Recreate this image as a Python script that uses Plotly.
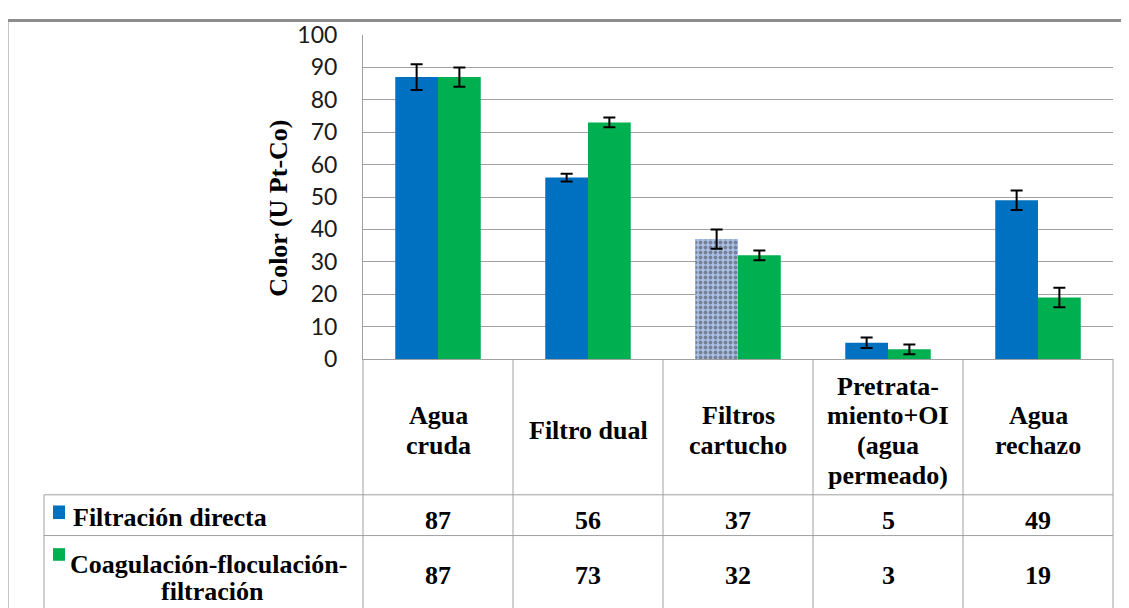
import plotly.graph_objects as go

categories = ["Agua cruda", "Filtro dual", "Filtros cartucho",
              "Pretratamiento+OI (agua permeado)", "Agua rechazo"]
header_labels = ["Agua<br>cruda", "Filtro dual", "Filtros<br>cartucho",
                 "Pretrata-<br>miento+OI<br>(agua<br>permeado)", "Agua<br>rechazo"]
series_names = ["Filtración directa", "Coagulación-floculación-<br>filtración"]
directa = [87, 56, 37, 5, 49]
directa_err = [4, 1.2, 3, 1.6, 3]
coag = [87, 73, 32, 3, 19]
coag_err = [3, 1.5, 1.5, 1.5, 3]
y_ticks = list(range(0, 101, 10))

BLUE = "#0070C0"
GREEN = "#00B050"
GRID = "#A0A0A0"
OFF = 8  # page body margin
W, H = 1129 - OFF, 608 - OFF
# plot area in reference pixel coords
L, R, T, B = 363, 1113, 25, 359


def PX(px):
    return (px - L) / (R - L)


def PY(py):
    return (B - py) / (B - T)


fig = go.Figure()
fig.add_trace(go.Bar(
    x=categories, y=directa, name="Filtración directa",
    marker=dict(
        color=[BLUE, BLUE, "#A9BFE6", BLUE, BLUE],
        line=dict(width=0),
        pattern=dict(shape=["", "", ".", "", ""],
                     fgcolor=[BLUE, BLUE, "#2F5290", BLUE, BLUE],
                     bgcolor=[BLUE, BLUE, "#AFC3E8", BLUE, BLUE],
                     size=5, solidity=0.45, fillmode="overlay"),
    ),
    error_y=dict(type="data", array=directa_err, color="black", thickness=2, width=6),
))
fig.add_trace(go.Bar(
    x=categories, y=coag, name="Coagulación-floculación-filtración",
    marker=dict(color=GREEN, line=dict(width=0)),
    error_y=dict(type="data", array=coag_err, color="black", thickness=2, width=6),
))

serif = "Liberation Serif"
tfont = dict(family=serif, size=26, color="black")

annotations = []
annotations.append(dict(
    text="<b>Color (U Pt-Co)</b>", x=PX(279), y=PY(204), xref="paper", yref="paper",
    textangle=-90, showarrow=False, font=dict(family=serif, size=26, color="black"),
    xanchor="center", yanchor="middle"))

# header cells: one annotation per line for exact line spacing
HDR_MID, HDR_STEP, SHIFT = 430, 30.5, 3
for cat, lab in zip(categories, header_labels):
    parts = lab.split("<br>")
    n = len(parts)
    for i, p in enumerate(parts):
        yc = HDR_MID + (i - (n - 1) / 2) * HDR_STEP + SHIFT
        annotations.append(dict(text="<b>" + p + "</b>", x=cat, xref="x", y=PY(yc), yref="paper",
                                showarrow=False, font=tfont, xanchor="center", yanchor="middle"))
for cat, v1, v2 in zip(categories, directa, coag):
    annotations.append(dict(text="<b>%d</b>" % v1, x=cat, xref="x", y=PY(525), yref="paper",
                            showarrow=False, font=tfont, xanchor="center", yanchor="middle"))
    annotations.append(dict(text="<b>%d</b>" % v2, x=cat, xref="x", y=PY(582), yref="paper",
                            showarrow=False, font=tfont, xanchor="center", yanchor="middle"))

# legend labels in the table
annotations.append(dict(
    text="<b>%s</b>" % series_names[0],
    x=PX(71), y=PY(522), xref="paper", yref="paper", showarrow=False, font=tfont,
    xanchor="left", yanchor="middle"))
lg2 = series_names[1].split("<br>")
annotations.append(dict(
    text="<b>%s</b>" % lg2[0],
    x=PX(68), y=PY(571), xref="paper", yref="paper", showarrow=False, font=tfont,
    xanchor="left", yanchor="middle"))
annotations.append(dict(
    text="<b>%s</b>" % lg2[1],
    x=PX(212), y=PY(599), xref="paper", yref="paper", showarrow=False, font=tfont,
    xanchor="center", yanchor="middle"))

shapes = []


def line(x0, y0, x1, y1, color=GRID, width=1):
    shapes.append(dict(type="line", xref="paper", yref="paper",
                       x0=PX(x0), y0=PY(y0), x1=PX(x1), y1=PY(y1),
                       line=dict(color=color, width=width)))


def rect(x0, y0, x1, y1, color):
    shapes.append(dict(type="rect", xref="paper", yref="paper",
                       x0=PX(x0), y0=PY(y0), x1=PX(x1), y1=PY(y1),
                       line=dict(width=0), fillcolor=color))


# outer frame
line(7, 10, 1135, 10, color="#8C8C8C", width=3)
line(7, 10, 7, 620, color="#8C8C8C", width=3)
# data table grid
col_edges = [363, 513, 663, 813, 963, 1113]
for cx in col_edges:
    line(cx, B, cx, 620)
line(44, 499, 44, 620)
line(44, 499, 1113, 499)
line(44, 541, 1113, 541)
# legend keys
rect(53, 510, 65, 524, BLUE)
rect(53, 554, 65, 567, GREEN)

fig.update_layout(
    width=W, height=H,
    margin=dict(l=L - OFF, r=W - (R - OFF), t=T - OFF, b=H - (B - OFF)),
    paper_bgcolor="white", plot_bgcolor="white",
    barmode="group", bargap=0.43, bargroupgap=0,
    showlegend=False,
    annotations=annotations, shapes=shapes,
    xaxis=dict(range=[-0.5, 4.5], showticklabels=False, showgrid=False,
               showline=True, linecolor=GRID, linewidth=1, ticks="", zeroline=False),
    yaxis=dict(range=[0, 100], tickvals=y_ticks, showgrid=True, gridcolor=GRID, gridwidth=1,
               showline=True, linecolor=GRID, linewidth=1, ticks="", zeroline=False,
               ticklabelstandoff=20,
               tickfont=dict(family="Lato", size=23, color="#1A1A1A")),
)

fig.write_html("out.html")
